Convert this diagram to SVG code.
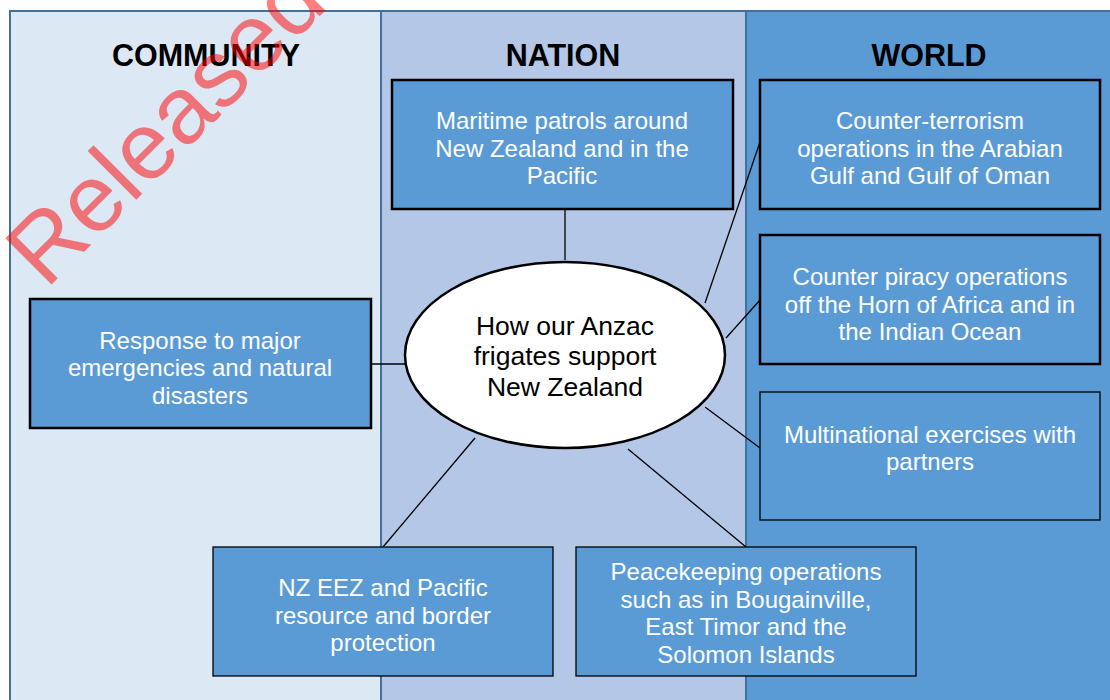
<svg xmlns="http://www.w3.org/2000/svg" width="1110" height="700" viewBox="0 0 1110 700">
<style>
.col{stroke:#41719c;stroke-width:2}
.box{fill:#5b9bd5;stroke:#000}
.thick{stroke-width:2.5}
.thin{stroke-width:1.3}
.t{font-family:"Liberation Sans",Arial,sans-serif;font-size:24px;fill:#fff;text-anchor:middle}
.e{font-family:"Liberation Sans",Arial,sans-serif;font-size:26.5px;fill:#000;text-anchor:middle}
.h{font-family:"Liberation Sans",Arial,sans-serif;font-size:30.5px;font-weight:bold;fill:#000;text-anchor:middle}
.c{stroke:#000;stroke-width:1.3;fill:none}
</style>
<rect width="1110" height="700" fill="#fff"/>
<g id="columns">
<rect class="col" x="10" y="11" width="371" height="700" fill="#dde8f5"/>
<rect class="col" x="381" y="11" width="365" height="700" fill="#b4c7e7"/>
<rect class="col" x="746" y="11" width="370" height="700" fill="#5b9bd5"/>
<text class="h" x="206" y="66">COMMUNITY</text>
<text class="h" x="563" y="66">NATION</text>
<text class="h" x="929" y="66">WORLD</text>
</g>
<g id="connectors">
<line class="c" x1="565" y1="209" x2="565" y2="260"/>
<line class="c" x1="760" y1="142" x2="705" y2="303"/>
<line class="c" x1="760" y1="300" x2="726" y2="338"/>
<line class="c" x1="760" y1="448" x2="705" y2="407"/>
<line class="c" x1="371" y1="364" x2="405" y2="364"/>
<line class="c" x1="475" y1="438" x2="383" y2="547"/>
<line class="c" x1="628" y1="449" x2="746" y2="547"/>
</g>
<g id="maritime">
<rect class="box thick" x="392" y="80" width="341" height="129"/>
<text class="t" x="562" y="129">Maritime patrols around</text>
<text class="t" x="562" y="157">New Zealand and in the</text>
<text class="t" x="562" y="184">Pacific</text>
</g>
<g id="counter-terrorism">
<rect class="box thick" x="760" y="80" width="340" height="129"/>
<text class="t" x="930" y="129">Counter-terrorism</text>
<text class="t" x="930" y="157">operations in the Arabian</text>
<text class="t" x="930" y="184">Gulf and Gulf of Oman</text>
</g>
<g id="counter-piracy">
<rect class="box thick" x="760" y="235" width="340" height="129"/>
<text class="t" x="930" y="285">Counter piracy operations</text>
<text class="t" x="930" y="313">off the Horn of Africa and in</text>
<text class="t" x="930" y="340">the Indian Ocean</text>
</g>
<g id="multinational">
<rect class="box thin" x="760" y="392" width="340" height="128"/>
<text class="t" x="930" y="443">Multinational exercises with</text>
<text class="t" x="930" y="470">partners</text>
</g>
<g id="response">
<rect class="box thick" x="30" y="299" width="341" height="129"/>
<text class="t" x="200" y="349">Response to major</text>
<text class="t" x="200" y="376">emergencies and natural</text>
<text class="t" x="200" y="404">disasters</text>
</g>
<g id="nz-eez">
<rect class="box thin" x="213" y="547" width="340" height="129"/>
<text class="t" x="383" y="596">NZ EEZ and Pacific</text>
<text class="t" x="383" y="624">resource and border</text>
<text class="t" x="383" y="651">protection</text>
</g>
<g id="peacekeeping">
<rect class="box thin" x="576" y="547" width="340" height="129"/>
<text class="t" x="746" y="580">Peacekeeping operations</text>
<text class="t" x="746" y="608">such as in Bougainville,</text>
<text class="t" x="746" y="635">East Timor and the</text>
<text class="t" x="746" y="663">Solomon Islands</text>
</g>
<g id="center">
<ellipse cx="565" cy="355" rx="160" ry="93" fill="#fff" stroke="#000" stroke-width="2.5"/>
<text class="e" x="565" y="335">How our Anzac</text>
<text class="e" x="565" y="365">frigates support</text>
<text class="e" x="565" y="396">New Zealand</text>
</g>
<text x="46" y="290" transform="rotate(-45 46 290)" font-family="Liberation Sans, Arial, sans-serif" font-size="95" fill="#ff0000" opacity="0.5">Released</text>
</svg>
